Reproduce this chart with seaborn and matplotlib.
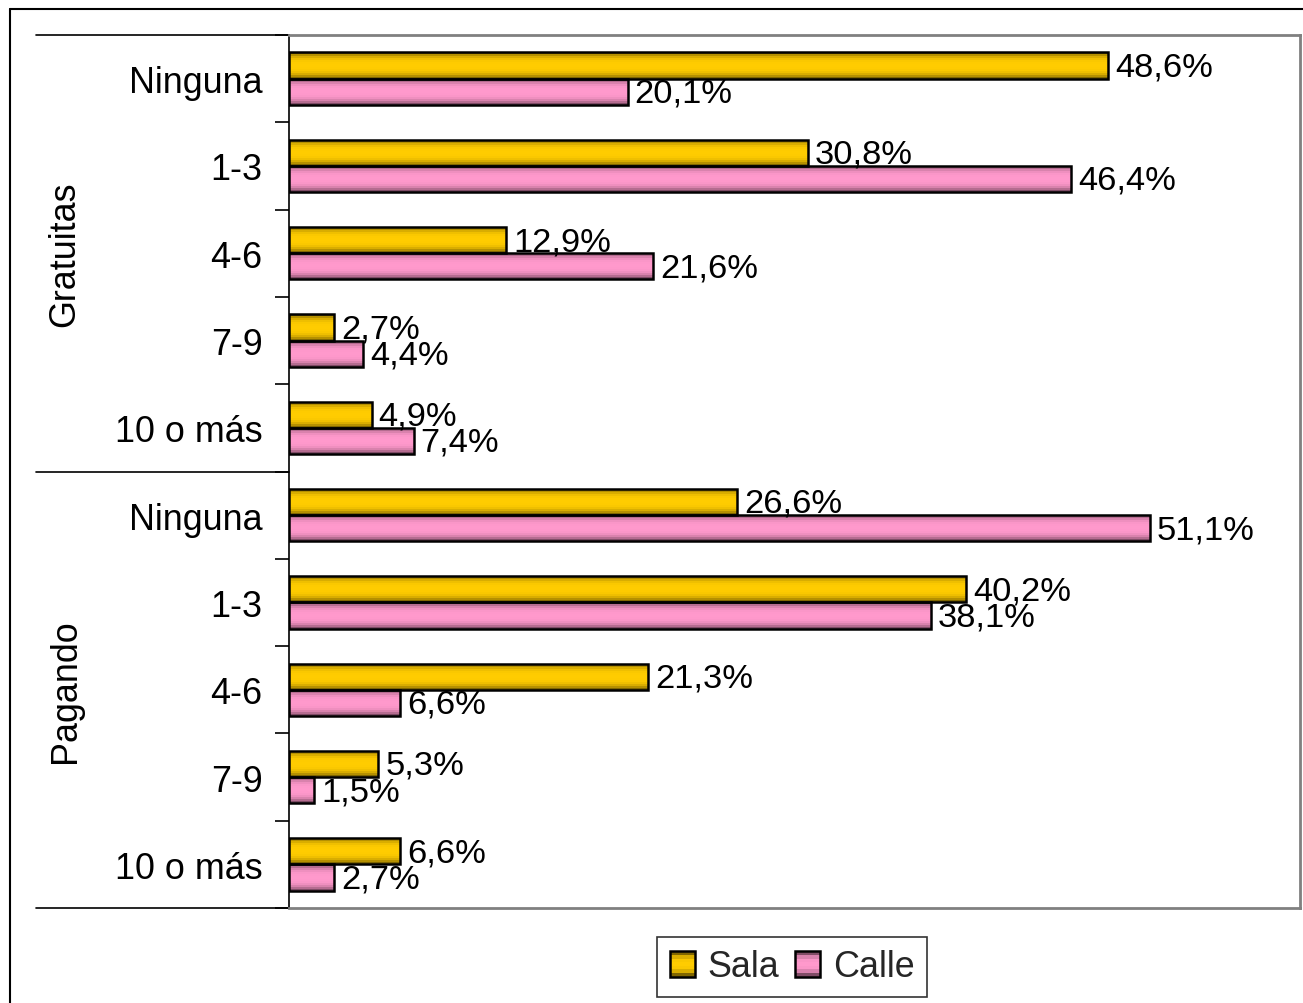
import numpy as np
import pandas as pd
import matplotlib
matplotlib.use("Agg")
import matplotlib.pyplot as plt
import matplotlib.transforms as mtransforms
from matplotlib.patches import Patch, Rectangle
from matplotlib.lines import Line2D
from matplotlib.legend_handler import HandlerBase
import seaborn as sns

# datos
grupos = ["Gratuitas", "Pagando"]
categorias = ["Ninguna", "1-3", "4-6", "7-9", "10 o más"]
sala_gratuitas = [48.6, 30.8, 12.9, 2.7, 4.9]
calle_gratuitas = [20.1, 46.4, 21.6, 4.4, 7.4]
sala_pagando = [26.6, 40.2, 21.3, 5.3, 6.6]
calle_pagando = [51.1, 38.1, 6.6, 1.5, 2.7]

filas = []
for g, sala, calle in [("Gratuitas", sala_gratuitas, calle_gratuitas),
                       ("Pagando", sala_pagando, calle_pagando)]:
    for c, s, k in zip(categorias, sala, calle):
        filas.append({"fila": g + "|" + c, "Lugar": "Sala", "Porcentaje": s})
        filas.append({"fila": g + "|" + c, "Lugar": "Calle", "Porcentaje": k})
df = pd.DataFrame(filas)
orden = [g + "|" + c for g in grupos for c in categorias]

sns.set_theme(style="white")
plt.rcParams["font.family"] = ["Liberation Sans", "DejaVu Sans"]

colores = {"Sala": "#FFCC00", "Calle": "#FF99CC"}
fs = 25.8

fig = plt.figure(figsize=(13.03, 10.04), dpi=100)
ax = fig.add_axes([289 / 1303, 1 - 909 / 1004, (1300 - 289) / 1303, (909 - 36) / 1004])

sns.barplot(data=df, y="fila", x="Porcentaje", hue="Lugar", order=orden,
            hue_order=["Sala", "Calle"], palette=colores, orient="h",
            width=0.6, gap=0, edgecolor="black", linewidth=1.8, saturation=1,
            legend=False, ax=ax, errorbar=None)


def factores(n):
    t = np.linspace(-1, 1, n)
    return 1 - 0.5 * np.abs(t) ** 3


def degradado(color, n=13):
    rgb = np.array(matplotlib.colors.to_rgb(color))
    f = factores(n)
    return np.clip(f[:, None] * rgb[None, :], 0, 1)[:, None, :]


# barras con degradado + etiquetas
for patch in list(ax.patches):
    w = patch.get_width()
    if w <= 0:
        continue
    y0 = patch.get_y()
    h = patch.get_height()
    col = patch.get_facecolor()
    img = ax.imshow(degradado(col), extent=(0, w, y0 + h, y0), aspect="auto",
                    interpolation="nearest", zorder=2)
    img.set_clip_path(patch)
    patch.set_facecolor("none")
    patch.set_zorder(3)
    ax.annotate(f"{w:.1f}".replace(".", ",") + "%", xy=(w, y0 + h / 2),
                xytext=(5, -1), textcoords="offset points", va="center",
                ha="left", fontsize=24.8, color="black", zorder=4)

ax.set_xlim(0, 60)
ax.set_ylim(9.5, -0.5)

# ejes
ax.set_xlabel("")
ax.set_ylabel("")
ax.set_xticks([])
ax.set_yticks(range(10))
ax.set_yticklabels(categorias * 2, fontsize=fs, color="black")
ax.set_yticks(np.arange(-0.5, 10, 1), minor=True)
ax.tick_params(axis="y", which="major", length=0, pad=19)
ax.tick_params(axis="y", which="minor", length=10, width=1.2, color="black",
               direction="out", left=True)
for lado in ["top", "right", "bottom"]:
    ax.spines[lado].set_color("#808080")
    ax.spines[lado].set_linewidth(2)
ax.spines["left"].set_color("black")
ax.spines["left"].set_linewidth(1.2)

# lineas de grupos
trans = mtransforms.blended_transform_factory(fig.transFigure, ax.transData)
for yy in [-0.5, 4.5, 9.5]:
    ax.add_line(Line2D([36 / 1303, 289 / 1303], [yy, yy], transform=trans,
                       color="black", lw=1.2, clip_on=False))
for g, yc in zip(grupos, [2, 7]):
    ax.text(65 / 1303, yc, g, transform=trans, rotation=90, ha="center",
            va="center", fontsize=fs, color="black")

# borde exterior
fig.add_artist(Line2D([10 / 1303, 1], [1 - 10 / 1004, 1 - 10 / 1004],
                      transform=fig.transFigure, color="black", lw=1.5))
fig.add_artist(Line2D([10 / 1303, 10 / 1303], [0, 1 - 10 / 1004],
                      transform=fig.transFigure, color="black", lw=1.5))


# leyenda con cuadros en degradado
class HandlerDegradado(HandlerBase):
    def create_artists(self, legend, orig_handle, xdescent, ydescent,
                       width, height, fontsize, trans):
        rgb = np.array(matplotlib.colors.to_rgb(orig_handle.get_facecolor()))
        n = 7
        f = factores(n)
        arts = []
        for i in range(n):
            yy = -ydescent + height * (n - 1 - i) / n
            arts.append(Rectangle((-xdescent, yy), width, height / n,
                                  facecolor=np.clip(f[i] * rgb, 0, 1),
                                  edgecolor="none", transform=trans))
        arts.append(Rectangle((-xdescent, -ydescent), width, height,
                              facecolor="none", edgecolor="black", lw=1.8,
                              transform=trans))
        return arts


handles = [Patch(facecolor=colores["Sala"], edgecolor="black", label="Sala"),
           Patch(facecolor=colores["Calle"], edgecolor="black", label="Calle")]
leg = fig.legend(handles=handles, loc="center", bbox_to_anchor=(792 / 1303, 1 - 968 / 1004),
                 ncol=2, fontsize=fs, frameon=True, fancybox=False, edgecolor="black",
                 handlelength=0.7, handleheight=0.7, handletextpad=0.35,
                 columnspacing=0.45, borderpad=0.35, borderaxespad=0,
                 handler_map={Patch: HandlerDegradado()})
leg.get_frame().set_linewidth(1.2)

fig.savefig("out.png", dpi=100)
